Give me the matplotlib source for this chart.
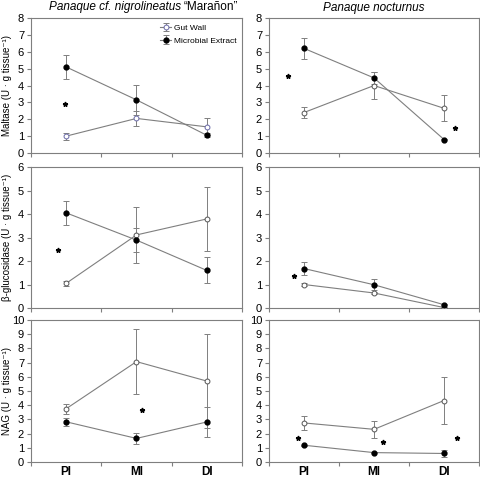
import matplotlib.pyplot as plt
import numpy as np

plt.rcParams['font.family'] = ['Liberation Sans', 'DejaVu Sans']

sites = ['PI', 'MI', 'DI']
titles = ['Panaque cf. nigrolineatus', 'Panaque nocturnus']
ylabels = ['Maltase (U · g tissue⁻¹)',
           'β-glucosidase (U · g tissue⁻¹)',
           'NAG (U · g tissue⁻¹)']
ymax = [8, 6, 10]

# gut wall: mean and error, [row][col]
gut_mean = [[[1.0, 2.05, 1.55], [2.4, 4.0, 2.65]],
            [[1.05, 3.11, 3.79], [1.0, 0.64, 0.02]],
            [[3.75, 7.07, 5.7], [2.75, 2.3, 4.33]]]
gut_err = [[[0.2, 0.45, 0.5], [0.3, 0.78, 0.78]],
           [[0.1, 1.2, 1.38], [0.05, 0.05, 0.02]],
           [[0.35, 2.3, 3.3], [0.5, 0.6, 1.67]]]
# microbial extract
mic_mean = [[[5.1, 3.15, 1.05], [6.2, 4.45, 0.8]],
            [[4.05, 2.89, 1.6], [1.68, 0.99, 0.14]],
            [[2.83, 1.66, 2.82], [1.18, 0.66, 0.6]]]
mic_err = [[[0.72, 0.9, 0.13], [0.6, 0.35, 0.05]],
           [[0.52, 0.5, 0.55], [0.27, 0.24, 0.03]],
           [[0.3, 0.38, 1.05], [0.05, 0.04, 0.25]]]
# significance stars (x, y)
stars = [[[(0.98, 2.9)], [(0.77, 4.55), (3.16, 1.5)]],
         [[(0.88, 2.47)], [(0.86, 1.35)]],
         [[(2.08, 3.63)], [(0.91, 1.72), (2.13, 1.44), (3.19, 1.72)]]]

fig = plt.figure(figsize=(4.81, 4.78), dpi=100)
lefts = [0.0644, 0.5593]
widths = [0.4387, 0.4366]
bottoms = [0.6799, 0.3556, 0.0335]
heights = [0.2824, 0.295, 0.297]

gray = '#7f7f7f'
x = np.arange(1, 4)

for r in range(3):
    for c in range(2):
        ax = fig.add_axes([lefts[c], bottoms[r], widths[c], heights[r]])
        gcol = '#6a6aa8' if (r == 0 and c == 0) else '#555555'
        ax.errorbar(x, gut_mean[r][c], yerr=gut_err[r][c], color=gray, lw=0.8,
                    elinewidth=0.7, capsize=2, capthick=0.7, marker='o', ms=3.5,
                    mfc='white', mec=gcol, mew=0.7, label='Gut Wall', zorder=3)
        ax.errorbar(x, mic_mean[r][c], yerr=mic_err[r][c], color=gray, lw=0.8,
                    elinewidth=0.7, capsize=2, capthick=0.7, marker='o', ms=3.5,
                    mfc='black', mec='black', label='Microbial Extract', zorder=3)
        for sx, sy in stars[r][c]:
            ax.plot(sx, sy, marker='*', ms=3.5, color='black', ls='none')
        ax.set_xlim(0.5, 3.5)
        ax.set_ylim(0, ymax[r])
        ax.set_yticks(range(ymax[r] + 1))
        ax.set_xticks([0.5, 1.5, 2.5, 3.5])
        ax.set_xticklabels([])
        ax.set_xticks(x, minor=True)
        if r == 2:
            ax.set_xticklabels(sites, minor=True, fontweight='bold', fontsize=8.5)
        ax.tick_params(axis='x', which='minor', length=0, pad=3)
        ax.tick_params(axis='both', which='major', length=3, color=gray,
                       width=0.8, labelsize=8, pad=2)
        for s in ax.spines.values():
            s.set_color(gray)
            s.set_linewidth(0.8)
        if c == 0:
            ax.set_ylabel(ylabels[r], fontsize=7)
            ax.yaxis.set_label_coords(-0.09, 0.5)
        if r == 0:
            if c == 0:
                ax.text(0.71, 1.035, titles[c], transform=ax.transAxes,
                        fontsize=8.5, style='italic', ha='right', va='bottom')
                ax.text(0.725, 1.035, '\u201cMarañon\u201d', transform=ax.transAxes,
                        fontsize=8.5, ha='left', va='bottom')
                ax.legend(loc='upper right', fontsize=6, frameon=False,
                          handlelength=1.3, borderaxespad=0.3, labelspacing=0.6,
                          handletextpad=0.3)
            else:
                ax.set_title(titles[c], fontsize=8.5, style='italic', pad=5)

fig.savefig('out.png', dpi=100)
